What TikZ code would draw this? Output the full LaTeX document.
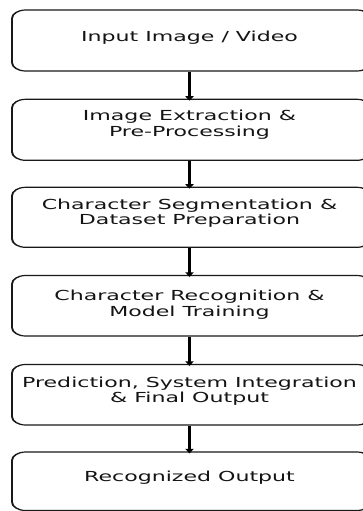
\documentclass[tikz,border=0pt]{standalone}
\usepackage{fontspec}
\setmainfont{DejaVu Sans}
\usetikzlibrary{arrows.meta}

\tikzset{
  stagebox/.style={draw=black!90, line width=1.2pt, rounded corners=8.5pt,
    minimum width=224pt, inner sep=0pt},
  stagetext/.style={inner sep=0pt, anchor=base, text=black!92,
    font=\fontsize{13.8pt}{15.5pt}\selectfont},
  flow/.style={draw=black, line width=1.9pt,
    -{Triangle[width=5pt,length=4.5pt]}, shorten >=-2pt}
}

\newcommand{\twolines}[2]{\begin{tabular}[t]{@{}c@{}}#1\\#2\end{tabular}}

\begin{document}
\begin{tikzpicture}[x=1pt, y=-1pt]
\useasboundingbox (0,0) rectangle (363,511);
\clip (0,0) rectangle (363,511);

% the whole chart is set with a horizontal stretch of 1.6
\begin{scope}[transform canvas={xscale=1.6}]
  \def\bx{119.5}
  \def\cx{118.44}

  \node[stagebox, minimum height=61pt]   (b1) at (\bx, 40.5)   {};
  \node[stagebox, minimum height=61pt]   (b2) at (\bx, 129.8)  {};
  \node[stagebox, minimum height=60pt]   (b3) at (\bx, 217.3)  {};
  \node[stagebox, minimum height=60.5pt] (b4) at (\bx, 305.75) {};
  \node[stagebox, minimum height=60.5pt] (b5) at (\bx, 394.75) {};
  \node[stagebox, minimum height=58.5pt] (b6) at (\bx, 481.25) {};

  \node[stagetext] (t1) at (\cx, 41.7)  {Input Image / Video};
  \node[stagetext] (t2) at (\cx, 120.7) {\twolines{Image Extraction \&}{Pre-Processing}};
  \node[stagetext] (t3) at (\cx, 209.3) {\twolines{Character Segmentation \&}{Dataset Preparation}};
  \node[stagetext] (t4) at (\cx, 300.7) {\twolines{Character Recognition \&}{Model Training}};
  \node[stagetext] (t5) at (\cx, 387.3) {\twolines{Prediction, System Integration}{\& Final Output}};
  \node[stagetext] (t6) at (\cx, 481.7) {Recognized Output};

  \draw[flow] (b1.south -| t1) -- (b2.north -| t1);
  \draw[flow] (b2.south -| t1) -- (b3.north -| t1);
  \draw[flow] (b3.south -| t1) -- (b4.north -| t1);
  \draw[flow] (b4.south -| t1) -- (b5.north -| t1);
  \draw[flow] (b5.south -| t1) -- (b6.north -| t1);
\end{scope}
\end{tikzpicture}
\end{document}
